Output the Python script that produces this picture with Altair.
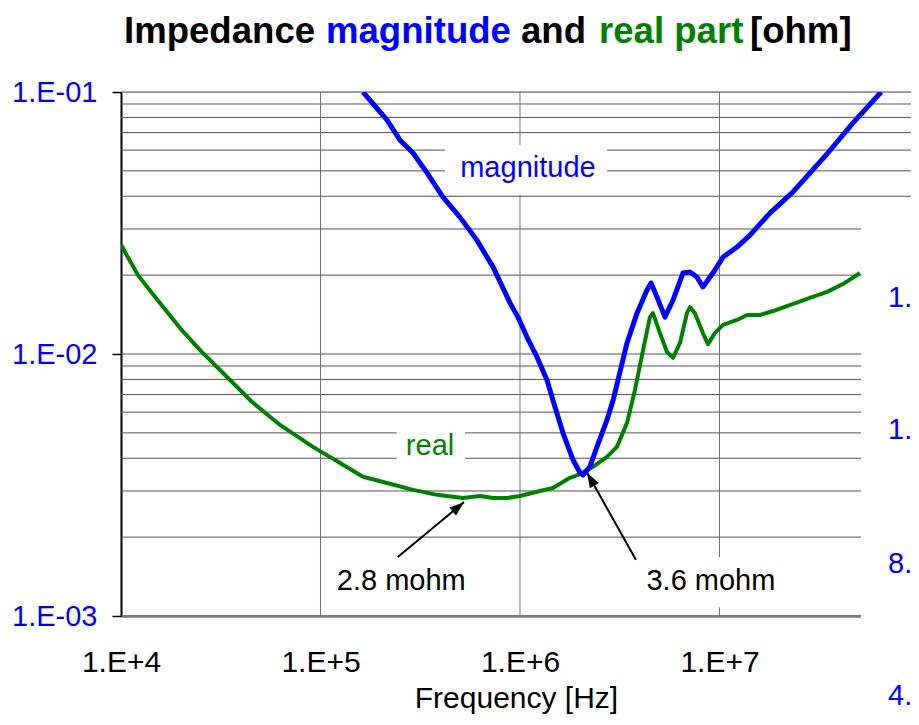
import altair as alt
import pandas as pd

# ---------------- data ----------------
freq_real = [1.0e4, 1.216e4, 1.496e4, 1.977e4, 2.49e4, 3.40e4, 4.54e4, 6.27e4, 9.17e4,
             1.253e5, 1.633e5, 2.153e5, 2.91e5, 3.84e5, 5.18e5, 6.30e5, 7.32e5, 8.61e5,
             1.0e6, 1.26e6, 1.462e6, 1.78e6, 2.00e6, 2.32e6, 2.73e6, 3.06e6, 3.44e6,
             3.77e6, 4.14e6, 4.48e6, 4.64e6, 5.03e6, 5.46e6, 5.85e6, 6.34e6, 6.87e6,
             7.11e6, 7.53e6, 8.26e6, 8.75e6, 9.48e6, 1.042e7, 1.224e7, 1.374e7, 1.596e7,
             1.854e7, 2.25e7, 2.84e7, 3.46e7, 4.16e7, 5.06e7]
z_real = [0.0261, 0.0200, 0.01637, 0.01256, 0.01035, 0.00817, 0.00656, 0.00536, 0.00442,
          0.00384, 0.00340, 0.00322, 0.00303, 0.00290, 0.00282, 0.00287, 0.00282, 0.00282,
          0.00287, 0.00300, 0.00308, 0.00337, 0.00348, 0.00371, 0.00405, 0.00442, 0.00546,
          0.00729, 0.01035, 0.01383, 0.01432, 0.01202, 0.01018, 0.00966, 0.01102, 0.01432,
          0.01510, 0.01432, 0.01202, 0.01091, 0.01202, 0.01291, 0.01349, 0.01409, 0.01409,
          0.01459, 0.01538, 0.01637, 0.01726, 0.01849, 0.02037]

freq_mag = [1.633e5, 2.153e5, 2.50e5, 2.91e5, 3.42e5, 4.11e5, 5.00e5, 6.08e5, 7.32e5,
            8.91e5, 9.77e5, 1.084e6, 1.216e6, 1.365e6, 1.462e6, 1.643e6, 1.845e6, 2.00e6,
            2.07e6, 2.24e6, 2.43e6, 2.73e6, 2.93e6, 3.44e6, 3.86e6, 4.33e6, 4.54e6,
            4.86e6, 5.33e6, 5.85e6, 6.56e6, 7.11e6, 7.71e6, 8.26e6, 9.27e6, 1.042e7,
            1.224e7, 1.422e7, 1.79e7, 2.33e7, 3.46e7, 4.67e7, 6.46e7]
z_mag = [0.100, 0.0782, 0.0656, 0.0585, 0.0491, 0.0397, 0.0333, 0.0272, 0.0215,
         0.01567, 0.01383, 0.01161, 0.00975, 0.00796, 0.00667, 0.00499, 0.00394, 0.00352,
         0.00345, 0.00371, 0.00442, 0.00560, 0.00667, 0.01102, 0.01432, 0.01754, 0.01866,
         0.01652, 0.01383, 0.01607, 0.02037, 0.02056, 0.01968, 0.01803, 0.02037, 0.02344,
         0.02559, 0.02844, 0.0345, 0.0415, 0.0580, 0.0762, 0.100]

# gridlines
h_grid = [0.001, 0.002, 0.003, 0.004, 0.005, 0.006, 0.007, 0.008, 0.009,
          0.01, 0.02, 0.03, 0.04, 0.05, 0.06, 0.07, 0.08, 0.09, 0.1]
v_grid = [1e5, 1e6, 1e7]
x_ticks = [1e4, 1e5, 1e6, 1e7]
y_ticks = [0.001, 0.01, 0.1]

# in-plot labels
label_text = ["magnitude", "real", "2.8 mohm", "3.6 mohm"]
label_f = [1.096e6, 3.54e5, 2.54e5, 9.06e6]
label_z = [0.0474, 0.00412, 0.001256, 0.001256]
label_col = ["#0000ff", "#008000", "#000000", "#000000"]

# white label boxes
box_f1 = [4.21e5, 2.41e5, 1.08e5, 3.56e6]
box_f2 = [2.73e6, 5.30e5, 5.94e5, 2.25e7]
box_z1 = [0.0628, 0.00560, 0.00168, 0.00168]
box_z2 = [0.0405, 0.00361, 0.00108, 0.00108]

# arrows
arr_f1 = [2.44e5, 3.81e6]
arr_z1 = [0.00168, 0.00164]
arr_f2 = [5.24e5, 2.17e6]
arr_z2 = [0.00272, 0.00352]
arr_ang = [50.2, 330.6]

# ---------------- chart ----------------
FONT = "Liberation Sans"
W, H = 790, 524

xscale = alt.Scale(type="log", domain=[1e4, 9.12e7], nice=False)
yscale = alt.Scale(type="log", domain=[1e-3, 1e-1], nice=False)

x_axis = alt.Axis(values=x_ticks, grid=False, ticks=False, tickSize=0,
                  labelExpr="'1.E+' + round(log(datum.value)/LN10)",
                  labelFontSize=30, labelColor="black", labelFont=FONT,
                  labelPadding=55, labelBaseline="alphabetic", labelFlush=False,
                  labelOverlap=False,
                  domainColor="#a0a0a0", domainWidth=3,
                  title="Frequency [Hz]", titleFont=FONT, titleFontSize=30,
                  titleFontWeight="normal", titleColor="black",
                  titleX=395, titleY=91, titleBaseline="alphabetic", titleAlign="center")
y_axis = alt.Axis(values=y_ticks, grid=False, tickSize=9, tickColor="black", tickWidth=1.5,
                  labelExpr="'1.E-0' + round(-log(datum.value)/LN10)",
                  labelFontSize=29, labelColor="#0000ff", labelFont=FONT,
                  labelPadding=15, labelBaseline="middle", labelFlush=False,
                  labelOverlap=False,
                  domainColor="#000000", domainWidth=2, title=None)

hgrid = alt.Chart(pd.DataFrame({"v": h_grid})).mark_rule(color="#505050", strokeWidth=1).encode(
    y=alt.Y("v:Q", scale=yscale, axis=y_axis)
)
vgrid = alt.Chart(pd.DataFrame({"f": v_grid})).mark_rule(color="#707070", strokeWidth=1).encode(
    x=alt.X("f:Q", scale=xscale, axis=x_axis)
)

boxes = alt.Chart(pd.DataFrame({"f1": box_f1, "f2": box_f2, "z1": box_z1, "z2": box_z2})).mark_rect(
    color="white").encode(
    x=alt.X("f1:Q", scale=xscale), x2="f2:Q",
    y=alt.Y("z1:Q", scale=yscale), y2="z2:Q",
)

real_line = alt.Chart(pd.DataFrame({"f": freq_real, "z": z_real})).mark_line(
    color="#008000", strokeWidth=4, clip=True, strokeJoin="round").encode(
    x=alt.X("f:Q", scale=xscale),
    y=alt.Y("z:Q", scale=yscale),
)
mag_line = alt.Chart(pd.DataFrame({"f": freq_mag, "z": z_mag})).mark_line(
    color="#0000ff", strokeWidth=5, clip=True, strokeJoin="round").encode(
    x=alt.X("f:Q", scale=xscale),
    y=alt.Y("z:Q", scale=yscale),
)

labels = alt.Chart(pd.DataFrame({"t": label_text, "f": label_f, "z": label_z, "c": label_col})).mark_text(
    font=FONT, fontSize=29, align="center", baseline="alphabetic").encode(
    x=alt.X("f:Q", scale=xscale),
    y=alt.Y("z:Q", scale=yscale),
    text="t:N",
    color=alt.Color("c:N", scale=None),
)

arr_df = pd.DataFrame({"f1": arr_f1, "z1": arr_z1, "f2": arr_f2, "z2": arr_z2, "a": arr_ang})
arrow_lines = alt.Chart(arr_df).mark_rule(color="black", strokeWidth=2).encode(
    x=alt.X("f1:Q", scale=xscale), x2="f2:Q",
    y=alt.Y("z1:Q", scale=yscale), y2="z2:Q",
)
arrow_heads = alt.Chart(arr_df).mark_point(
    shape="M0,0L0.6,1.7L-0.6,1.7Z", filled=True, color="black", size=300, opacity=1).encode(
    x=alt.X("f2:Q", scale=xscale),
    y=alt.Y("z2:Q", scale=yscale),
    angle=alt.Angle("a:Q", scale=None),
)

one = alt.Data(values=[{}])
cover = alt.Chart(one).mark_rect(color="white").encode(
    x=alt.value(740), x2=alt.value(W + 5), y=alt.value(118), y2=alt.value(H + 120)
)

layers = [hgrid, vgrid, boxes, real_line, mag_line, labels, arrow_lines, arrow_heads, cover]

# labels of the neighbouring chart at the right edge
for txt, yy in [("1.", 215), ("1.", 347), ("8.", 481), ("4.", 613)]:
    layers.append(alt.Chart(one).mark_text(
        font=FONT, fontSize=29, color="#0000ff", align="left", baseline="alphabetic").encode(
        x=alt.value(767), y=alt.value(yy), text=alt.value(txt)))

# multi-coloured title
for txt, xx, col in [("Impedance", 3, "#000000"), ("magnitude", 205, "#0000ff"),
                     ("and", 400, "#000000"), ("real part", 478, "#008000"),
                     ("[ohm]", 629, "#000000")]:
    layers.append(alt.Chart(one).mark_text(
        font=FONT, fontSize=36.6, fontWeight="bold", color=col,
        align="left", baseline="alphabetic").encode(
        x=alt.value(xx), y=alt.value(-49), text=alt.value(txt)))

chart = alt.layer(*layers).properties(
    width=W, height=H,
    autosize=alt.AutoSizeParams(type="none"),
    padding={"left": 113, "top": 84, "right": 0, "bottom": 98},
).configure_view(stroke=None).configure(background="white")

chart.save("out.html", embed_options={"renderer": "svg", "actions": False})
